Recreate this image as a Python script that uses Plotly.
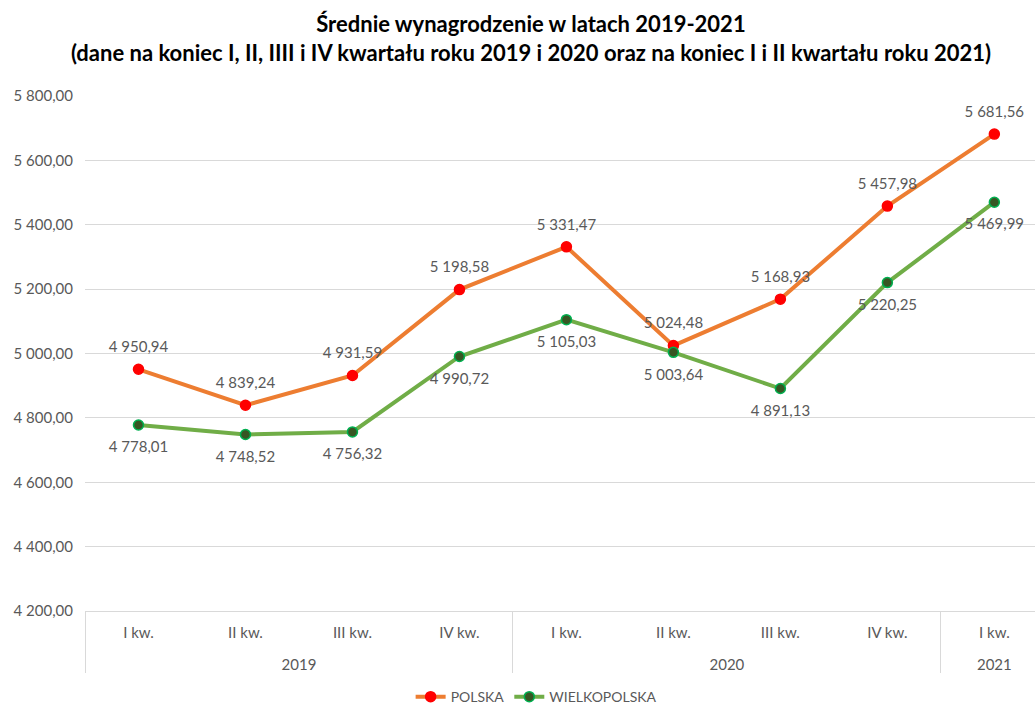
import plotly.graph_objects as go

# ── Dane ──────────────────────────────────────────────────────────────────
YEARS    = ['2019', '2019', '2019', '2019', '2020', '2020', '2020', '2020', '2021']
QUARTERS = ['I kw.', 'II kw.', 'III kw.', 'IV kw.', 'I kw.', 'II kw.', 'III kw.', 'IV kw.', 'I kw.']
POLSKA       = [4950.94, 4839.24, 4931.59, 5198.58, 5331.47, 5024.48, 5168.93, 5457.98, 5681.56]
WIELKOPOLSKA = [4778.01, 4748.52, 4756.32, 4990.72, 5105.03, 5003.64, 4891.13, 5220.25, 5469.99]

# ── Kolory ────────────────────────────────────────────────────────────────
COLOR_PL_LINE = '#ED7D31'
COLOR_PL_MARK = '#FF0000'
COLOR_WP_LINE = '#70AD47'
COLOR_WP_MARK = '#375623'
GRID = '#D9D9D9'
TXT  = '#595959'
FONT = 'Lato'

# rok w drugiej linii -> większy odstęp od etykiet kwartałów
x = [['<br>' + y for y in YEARS], QUARTERS]

fig = go.Figure()

for name, vals, line_c, mark_c, edge_c, pos, gap in [
    ('POLSKA', POLSKA, COLOR_PL_LINE, COLOR_PL_MARK, COLOR_PL_MARK, 'top center', 20),
    ('WIELKOPOLSKA', WIELKOPOLSKA, COLOR_WP_LINE, COLOR_WP_MARK, '#00B050', 'bottom center', 24),
]:
    fig.add_trace(go.Scatter(
        x=x, y=vals, name=name, mode='lines+markers',
        line=dict(color=line_c, width=4),
        marker=dict(color=mark_c, size=10, line=dict(color=edge_c, width=1.5)),
    ))
    # etykiety danych (niewidoczny większy znacznik = odstęp od punktu)
    fig.add_trace(go.Scatter(
        x=x, y=vals, mode='markers+text', showlegend=False, hoverinfo='skip',
        marker=dict(color='rgba(0,0,0,0)', size=gap),
        texttemplate='%{y:,.2f}', textposition=pos,
        textfont=dict(color=TXT, size=15, family=FONT),
    ))

fig.update_layout(
    width=1035, height=704,
    separators=', ',
    plot_bgcolor='white', paper_bgcolor='white',
    font=dict(family=FONT, color=TXT, size=14),
    title=dict(
        text='<b>Średnie wynagrodzenie w latach 2019-2021<br>'
             '(dane na koniec I, II, IIII i IV kwartału roku 2019 i 2020 oraz na koniec I i II kwartału roku 2021)</b>',
        x=0.513, xanchor='center', y=0.9545, yanchor='middle',
        font=dict(family=FONT, size=22, color='black'),
    ),
    margin=dict(l=85, r=0, t=96, b=93),
    showlegend=True,
    legend=dict(orientation='h', xref='container', x=0.518, xanchor='center',
                yref='container', y=0.0099, yanchor='middle',
                font=dict(size=14, color=TXT)),
    xaxis=dict(
        # ostatnia kategoria (2021) ucięta prawą krawędzią, jak w oryginale
        type='multicategory', range=[-0.5, 8.38],
        showgrid=False, showline=True, linecolor=GRID,
        showdividers=True, dividercolor=GRID, dividerwidth=1, automargin=False,
        tickfont=dict(size=15, color=TXT), ticklabelstandoff=8,
    ),
    yaxis=dict(
        range=[4200, 5800], dtick=200, tickformat=',.2f', automargin=False,
        gridcolor=GRID, gridwidth=1, zeroline=False, showline=False,
        tickfont=dict(size=15, color=TXT), ticks='', ticklabelstandoff=11,
    ),
)

# bez domyślnego marginesu strony (8px)
fig.write_html('out.html', config={'displayModeBar': False},
               post_script='document.body.style.margin = "0";')
